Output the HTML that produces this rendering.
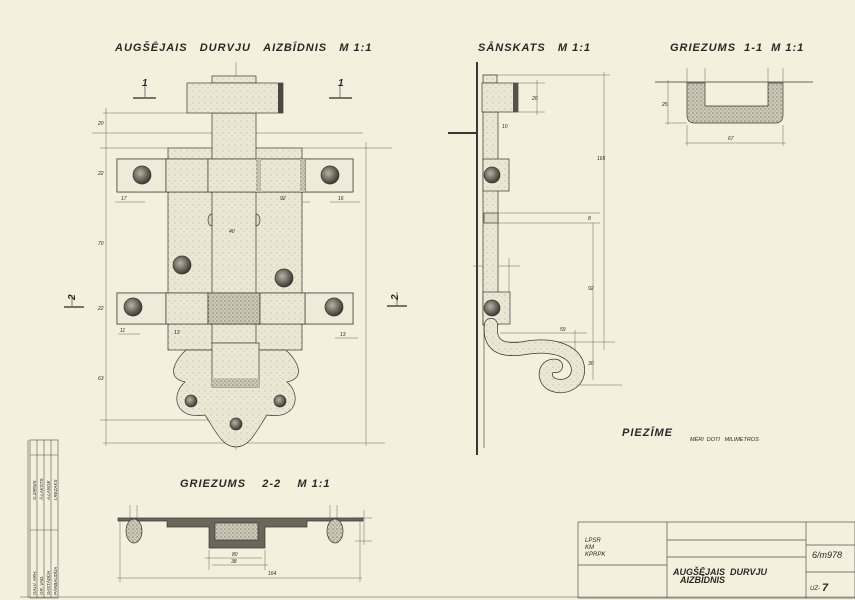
<!DOCTYPE html>
<html><head><meta charset="utf-8"><style>
html,body{margin:0;padding:0;background:#f4f0de;}
svg{display:block}
text{font-family:"Liberation Sans",sans-serif;font-style:italic;fill:#2a2826}
</style></head><body>
<svg width="855" height="600" viewBox="0 0 855 600" xmlns="http://www.w3.org/2000/svg">
<defs>
<pattern id="st" width="6" height="6" patternUnits="userSpaceOnUse">
<rect width="6" height="6" fill="#ece7d4"/>
<circle cx="1" cy="1" r="0.45" fill="#9a9585"/>
<circle cx="4" cy="3.5" r="0.4" fill="#a7a292"/>
</pattern>
<pattern id="dk" width="4" height="4" patternUnits="userSpaceOnUse">
<rect width="4" height="4" fill="#cfcab7"/>
<circle cx="1" cy="1" r="0.6" fill="#5e5a50"/>
<circle cx="3" cy="3" r="0.5" fill="#6e6a60"/>
</pattern>
<radialGradient id="rv" cx="40%" cy="40%" r="60%"><stop offset="0" stop-color="#b8b3a3"/><stop offset="1" stop-color="#3e3b35"/></radialGradient>
</defs>
<rect width="855" height="600" fill="#f4f0de"/>

<g font-size="11" font-weight="bold" letter-spacing="1">
<text x="115" y="51">AUGŠĒJAIS&#160;&#160;&#160;DURVJU&#160;&#160;&#160;AIZBĪDNIS&#160;&#160;&#160;M 1:1</text>
<text x="478" y="51">SĀNSKATS&#160;&#160;&#160;M 1:1</text>
<text x="670" y="51">GRIEZUMS&#160;&#160;1-1&#160;&#160;M 1:1</text>
<text x="180" y="487">GRIEZUMS&#160;&#160;&#160;&#160;2-2&#160;&#160;&#160;&#160;M 1:1</text>
<text x="622" y="436">PIEZĪME</text>
</g>
<text x="690" y="441" font-size="5.5">MĒRI&#160;&#160;DOTI&#160;&#160;&#160;MILIMETROS</text>

<g stroke="#3a3732" stroke-width="0.7">
<g stroke="#6c6860" stroke-width="0.5" fill="none">
<line x1="103" y1="113" x2="187" y2="113"/>
<line x1="92" y1="133" x2="212" y2="133"/><line x1="256" y1="133" x2="363" y2="133"/>
<line x1="100" y1="148" x2="168" y2="148"/><line x1="302" y1="148" x2="392" y2="148"/>
<line x1="103" y1="443" x2="385" y2="443"/>
<line x1="100" y1="420" x2="220" y2="420"/>
<line x1="106" y1="108" x2="106" y2="446"/>
<line x1="366" y1="142" x2="366" y2="446"/>
<line x1="115" y1="202" x2="145" y2="202"/><line x1="168" y1="202" x2="310" y2="202"/><line x1="330" y1="202" x2="360" y2="202"/>
<line x1="205" y1="235" x2="265" y2="235"/>
<line x1="118" y1="334" x2="140" y2="334"/><line x1="168" y1="337" x2="195" y2="337"/><line x1="335" y1="338" x2="358" y2="338"/>
<line x1="236" y1="62" x2="236" y2="450"/>
</g>
<rect x="168" y="148" width="134" height="202" fill="url(#st)"/>
<path d="M186 350 C175 360 165 378 185 382 C170 395 175 420 205 415 C215 430 222 447 236 447 C250 447 257 430 267 415 C297 420 302 395 287 382 C307 378 297 360 286 350 Z" fill="url(#st)"/>
<rect x="212" y="113" width="44" height="230" fill="url(#st)"/>
<rect x="212" y="76" width="44" height="7" fill="url(#st)"/>
<rect x="187" y="83" width="96" height="30" fill="url(#st)"/>
<rect x="278" y="83" width="5" height="30" fill="#4a4740" stroke="none"/>
<rect x="212" y="343" width="47" height="44" fill="url(#st)"/>
<rect x="212" y="378" width="47" height="9" fill="url(#dk)" stroke="none"/>
<g>
<rect x="117" y="159" width="236" height="33" fill="url(#st)"/>
<rect x="117" y="159" width="49" height="33" fill="#efeada"/>
<rect x="305" y="159" width="48" height="33" fill="#efeada"/>
<rect x="166" y="159" width="42" height="33" fill="url(#st)"/>
<rect x="208" y="159" width="50" height="33" fill="url(#st)"/>
<rect x="258" y="159" width="47" height="33" fill="url(#st)"/>
<rect x="256" y="159" width="5" height="33" fill="url(#dk)" stroke="none"/>
<rect x="300" y="159" width="5" height="33" fill="url(#dk)" stroke="none"/>
<rect x="117" y="293" width="236" height="31" fill="url(#st)"/>
<rect x="117" y="293" width="49" height="31" fill="#efeada"/>
<rect x="305" y="293" width="48" height="31" fill="#efeada"/>
<rect x="166" y="293" width="42" height="31" fill="url(#st)"/>
<rect x="208" y="293" width="52" height="31" fill="url(#dk)"/>
<rect x="260" y="293" width="45" height="31" fill="url(#st)"/>
</g>
<circle cx="142" cy="175" r="9" fill="url(#rv)"/>
<circle cx="330" cy="175" r="9" fill="url(#rv)"/>
<circle cx="133" cy="307" r="9" fill="url(#rv)"/>
<circle cx="334" cy="307" r="9" fill="url(#rv)"/>
<circle cx="182" cy="265" r="9" fill="url(#rv)"/>
<circle cx="284" cy="278" r="9" fill="url(#rv)"/>
<circle cx="191" cy="401" r="6" fill="url(#rv)"/>
<circle cx="280" cy="401" r="6" fill="url(#rv)"/>
<circle cx="236" cy="424" r="6" fill="url(#rv)"/>
<path d="M212 214 a4 6 0 0 0 0 12 Z M256 214 a4 6 0 0 1 0 12 Z" fill="#ddd8c4"/>
</g>
<g stroke="#2a2826" stroke-width="1.2" fill="none">
<line x1="133" y1="98" x2="156" y2="98"/><line x1="329" y1="98" x2="352" y2="98"/>
<line x1="64" y1="307" x2="84" y2="307"/><line x1="387" y1="306" x2="407" y2="306"/>
<line x1="145" y1="85" x2="145" y2="97" stroke-width="0.6"/><line x1="340" y1="85" x2="340" y2="97" stroke-width="0.6"/>
<line x1="72" y1="295" x2="72" y2="306" stroke-width="0.6"/><line x1="397" y1="292" x2="397" y2="305" stroke-width="0.6"/>
</g>
<g font-size="10" font-weight="bold"><text x="142" y="86">1</text><text x="338" y="86">1</text>
<text x="75" y="300" transform="rotate(-90 75 300)">2</text><text x="398" y="300" transform="rotate(-90 398 300)">2</text></g>
<g font-size="5" fill="#555"><text x="121" y="200">17</text><text x="280" y="200">92</text><text x="338" y="200">16</text><text x="229" y="233">40</text><text x="120" y="332">11</text><text x="174" y="334">13</text><text x="340" y="336">13</text>
<text x="98" y="245">70</text><text x="98" y="380">63</text><text x="98" y="175">22</text><text x="98" y="310">22</text><text x="98" y="125">20</text></g>

<!-- side view -->
<g stroke="#3a3732" stroke-width="0.7">
<line x1="477" y1="62" x2="477" y2="455" stroke-width="2"/>
<line x1="448" y1="133" x2="476" y2="133" stroke-width="2"/>
<line x1="484" y1="148" x2="484" y2="448" stroke-width="0.6"/>
<g stroke="#6c6860" stroke-width="0.5">
<line x1="483" y1="75" x2="610" y2="75"/><line x1="604" y1="72" x2="604" y2="350"/>
<line x1="518" y1="83" x2="545" y2="83"/><line x1="518" y1="112" x2="545" y2="112"/><line x1="537" y1="80" x2="537" y2="115"/>
<line x1="498" y1="213" x2="600" y2="213"/><line x1="498" y1="223" x2="600" y2="223"/>
<line x1="593" y1="223" x2="593" y2="380"/><line x1="505" y1="342" x2="615" y2="342"/>
<line x1="500" y1="333" x2="587" y2="333"/><line x1="575" y1="330" x2="575" y2="385"/>
<line x1="560" y1="385" x2="622" y2="385"/>
<line x1="473" y1="266" x2="520" y2="266"/><line x1="509" y1="258" x2="509" y2="292"/>
</g>
<rect x="483" y="112" width="15" height="213" fill="url(#st)"/>
<rect x="483" y="75" width="14" height="8" fill="url(#st)"/>
<rect x="482" y="83" width="36" height="29" fill="url(#st)"/>
<rect x="513" y="83" width="5" height="29" fill="#55524a" stroke="none"/>
<rect x="483" y="159" width="26" height="32" fill="url(#st)"/>
<circle cx="492" cy="175" r="8" fill="url(#rv)"/>
<rect x="484" y="213" width="14" height="10" fill="#ddd8c4"/>
<rect x="483" y="292" width="27" height="32" fill="url(#st)"/>
<circle cx="492" cy="308" r="8" fill="url(#rv)"/>
<path d="M491 325 C489 345 500 352 525 348 C555 343 578 352 578 370 C578 385 560 390 550 383 C542 376 546 364 556 366" fill="none" stroke="#3a3732" stroke-width="14" stroke-linecap="round"/>
<path d="M491 325 C489 345 500 352 525 348 C555 343 578 352 578 370 C578 385 560 390 550 383 C542 376 546 364 556 366" fill="none" stroke="url(#st)" stroke-width="12.5" stroke-linecap="round"/>
</g>
<g font-size="5" fill="#555"><text x="532" y="100">20</text><text x="502" y="128">10</text><text x="597" y="160">165</text><text x="588" y="220">8</text><text x="588" y="290">92</text><text x="560" y="331">59</text><text x="588" y="365">30</text></g>

<!-- section 1-1 -->
<g stroke="#3a3732" stroke-width="0.7">
<line x1="655" y1="82" x2="813" y2="82"/>
<path d="M687 83 L705 83 L705 106 L768 106 L768 83 L783 83 L783 115 Q783 123 775 123 L695 123 Q687 123 687 115 Z" fill="url(#dk)"/>
<g stroke="#6c6860" stroke-width="0.5">
<line x1="668" y1="80" x2="668" y2="125"/><line x1="665" y1="123" x2="687" y2="123"/>
<line x1="687" y1="125" x2="687" y2="146"/><line x1="783" y1="125" x2="783" y2="146"/><line x1="685" y1="143" x2="786" y2="143"/>
<line x1="687" y1="68" x2="687" y2="82"/><line x1="705" y1="68" x2="705" y2="82"/><line x1="768" y1="68" x2="768" y2="82"/><line x1="783" y1="68" x2="783" y2="82"/>
</g></g>
<g font-size="5" fill="#555"><text x="662" y="106">25</text><text x="728" y="140">67</text></g>

<!-- section 2-2 -->
<g stroke="#3a3732" stroke-width="0.7">
<g stroke="#6c6860" stroke-width="0.5">
<line x1="130" y1="505" x2="130" y2="520"/><line x1="137" y1="505" x2="137" y2="520"/>
<line x1="330" y1="505" x2="330" y2="520"/><line x1="337" y1="505" x2="337" y2="520"/>
<line x1="120" y1="520" x2="120" y2="582"/><line x1="360" y1="520" x2="360" y2="582"/>
<line x1="117" y1="578" x2="362" y2="578"/>
<line x1="209" y1="550" x2="209" y2="570"/><line x1="265" y1="550" x2="265" y2="570"/>
<line x1="205" y1="558" x2="262" y2="558"/><line x1="212" y1="565" x2="268" y2="565"/>
<line x1="355" y1="518" x2="372" y2="518"/><line x1="355" y1="541" x2="372" y2="541"/><line x1="364" y1="510" x2="364" y2="545"/>
</g>
<path d="M118 518 L363 518 L363 521 L307 521 L307 527 L265 527 L265 548 L209 548 L209 527 L167 527 L167 521 L118 521 Z" fill="#6a665c"/>
<rect x="215" y="523" width="43" height="17" fill="url(#dk)"/>
<ellipse cx="134" cy="531" rx="8" ry="12" fill="url(#dk)"/>
<ellipse cx="335" cy="531" rx="8" ry="12" fill="url(#dk)"/>
</g>
<g font-size="5" fill="#555"><text x="232" y="556">80</text><text x="231" y="563">38</text><text x="268" y="575">164</text></g>

<g stroke="#55524a" stroke-width="0.6" fill="none">
<line x1="28" y1="440" x2="28" y2="598"/>
<rect x="30" y="440" width="28" height="158"/>
<line x1="37" y1="440" x2="37" y2="598"/><line x1="44" y1="440" x2="44" y2="598"/><line x1="51" y1="440" x2="51" y2="598"/>
<line x1="30" y1="455" x2="58" y2="455"/><line x1="30" y1="530" x2="58" y2="530"/>
<line x1="20" y1="597" x2="855" y2="597"/>
</g>
<g font-size="4.5" fill="#444">
<text x="36" y="595" transform="rotate(-90 36 595)">GALV. ARH.</text>
<text x="43" y="595" transform="rotate(-90 43 595)">GR. VAD.</text>
<text x="50" y="595" transform="rotate(-90 50 595)">SASTĀDĪJA</text>
<text x="57" y="595" transform="rotate(-90 57 595)">PĀRBAUDĪJA</text>
<text x="36" y="500" transform="rotate(-90 36 500)">G.ZIRNIS</text>
<text x="43" y="500" transform="rotate(-90 43 500)">Ā.LAKSTS</text>
<text x="50" y="500" transform="rotate(-90 50 500)">A.LANGE</text>
<text x="57" y="500" transform="rotate(-90 57 500)">I.REZAKS</text>
</g>

<g stroke="#55524a" stroke-width="0.7" fill="none">
<rect x="578" y="522" width="277" height="76"/>
<line x1="667" y1="522" x2="667" y2="598"/>
<line x1="806" y1="522" x2="806" y2="598"/>
<line x1="578" y1="565" x2="667" y2="565"/>
<line x1="667" y1="540" x2="806" y2="540"/><line x1="667" y1="557" x2="806" y2="557"/>
<line x1="806" y1="545" x2="855" y2="545"/><line x1="806" y1="572" x2="855" y2="572"/>
</g>
<g font-size="6" fill="#444"><text x="585" y="542">LPSR</text><text x="585" y="549">KM</text><text x="585" y="556">KPRPK</text></g>
<g font-size="9" font-weight="bold"><text x="673" y="575">AUGŠĒJAIS&#160;&#160;DURVJU</text><text x="680" y="583">AIZBĪDNIS</text></g>
<text x="812" y="558" font-size="9" fill="#999">6/m978</text>
<text x="810" y="590" font-size="6">UZ-</text><text x="822" y="591" font-size="11" font-weight="bold">7</text>
</svg>
</body></html>
